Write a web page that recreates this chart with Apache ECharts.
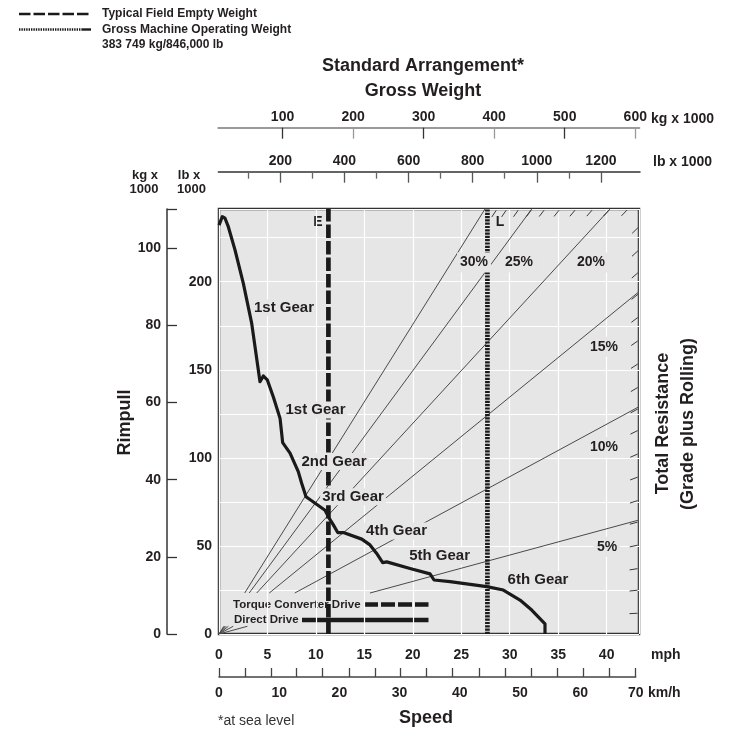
<!DOCTYPE html>
<html><head><meta charset="utf-8">
<script src="https://cdn.jsdelivr.net/npm/echarts@6/dist/echarts.min.js"></script>
<style>html,body{margin:0;padding:0;background:#fff}#c{width:731px;height:741px}</style>
</head><body><div id="c"></div>
<script>
// ---------------- data ----------------
const mphLabels = [0, 5, 10, 15, 20, 25, 30, 35, 40];
const kmhLabels = [0, 10, 20, 30, 40, 50, 60, 70];
const kmhTickMarks = [0, 4.32, 8.64, 12.91, 17.23, 21.59, 25.91, 30.18, 34.5, 38.82, 43.19, 47.51, 51.83, 56.2, 60.51, 64.83, 69.22];
const rimpullKgLabels = [0, 20, 40, 60, 80, 100];
const rimpullLbLabels = [0, 50, 100, 150, 200];
const weightKgLabels = [100, 200, 300, 400, 500, 600];
const weightLbLabels = [200, 400, 600, 800, 1000, 1200];
const weightLbMinorTicks = [100, 300, 500, 700, 900, 1100];

// rimpull curve: [speed mph, rimpull kg x 1000]
const rimpullCurve = [
  [0, 106.0], [0.34, 108.2], [0.62, 107.8], [0.96, 105.6], [1.65, 99.6], [2.51, 90.9],
  [3.37, 80.6], [4.23, 65.4], [4.57, 66.9], [4.98, 65.9], [5.60, 61.5], [6.30, 55.9],
  [6.57, 49.6], [7.33, 46.9], [8.18, 42.1], [8.53, 39.1], [8.98, 35.6], [10.94, 32.1],
  [11.38, 30.0], [11.80, 28.3], [12.25, 26.3], [12.83, 26.3], [14.73, 24.6], [15.58, 23.1],
  [16.27, 20.9], [16.89, 18.5], [17.31, 18.7], [19.71, 17.0], [21.78, 15.6], [22.19, 14.0],
  [23.84, 13.6], [27.63, 12.3], [29.34, 11.4], [31.06, 8.8], [32.27, 6.2], [33.64, 2.6], [33.64, 0]
];

// total resistance lines (visible pieces), [speed mph, rimpull kg x 1000]
const gradeNames = ['30%', '25%', '20%', '15%', '10%', '5%'];
const gradeNearOrigin = [[0.495, 2.0], [0.588, 2.0], [0.733, 2.0], [0.970, 2.0], [1.465, 2.0], [2.93, 2.0]];
const gradeVisibleStart = [[2.652, 10.63], [3.117, 10.63], [3.891, 10.63], [5.19, 10.63], [7.82, 10.63], [15.58, 10.63]];
const gradeEnd = [[27.45, 110.19], [32.27, 110.19], [40.35, 110.19], [43.34, 88.75], [43.34, 58.93], [43.34, 29.56]];
const gradeLabelAt = [[26.32, 96.3], [30.96, 96.3], [38.39, 96.3], [39.73, 74.5], [39.73, 48.4], [40.04, 22.6]];

// resistance scale ticks on the plot edges
const rightEdgeTickKg = [105.6, 99.6, 93.9, 88.3, 82.3, 76.2, 70.2, 64.1, 58.5, 52.9, 46.8, 40.8, 34.7, 29.1, 23.1, 17.0, 11.4, 5.4];
const topEdgeTickMph = [28.69, 29.72, 30.96, 32.30, 33.64, 35.19, 36.84, 38.60, 40.35, 42.21];

// gear labels: [text, speed mph, rimpull kg x 1000]
const gearLabels = [
  ['1st Gear', 6.71, 84.6], ['1st Gear', 9.96, 58.1], ['2nd Gear', 11.87, 44.7],
  ['3rd Gear', 13.83, 35.6], ['4th Gear', 18.32, 26.7], ['5th Gear', 22.76, 20.2], ['6th Gear', 32.92, 14.1]
];

// weights (lb x 1000)
const emptyWeightLb = 350;
const grossWeightLb = 846;

// axis extents
const MPH_MAX = 43.34, KMH_MAX = 69.22, KG_MAX = 110.19, LB_MAX = 241.3;

// ---------------- chart ----------------
const FONT = '"Liberation Sans", Arial, Helvetica, sans-serif';
const INK = '#231f20';
const BG = '#e6e6e6';
const lab = (o) => Object.assign({fontFamily: FONT, fontWeight: 'bold', fontSize: 14, color: INK, formatter: v => String(v)}, o || {});

const gradeSegs = [];
gradeNames.forEach((n, i) => {
  gradeSegs.push({coords: [[0, 0], gradeNearOrigin[i]]});
  gradeSegs.push({coords: [gradeVisibleStart[i], gradeEnd[i]]});
});
const edgeTicks = rightEdgeTickKg.map(k => [MPH_MAX, k]).concat(topEdgeTickMph.map(m => [m, KG_MAX]));

const chart = echarts.init(document.getElementById('c'), null, {renderer: 'canvas'});

const T = (x, y, text, o) => Object.assign({type: 'text', x, y, silent: true,
  style: Object.assign({text, fill: INK, fontFamily: FONT, fontWeight: 'bold', fontSize: 14, align: 'left', verticalAlign: 'middle'}, o || {})});
const Ln = (x1, y1, x2, y2, w, dash) => ({type: 'line', silent: true, shape: {x1, y1, x2, y2},
  style: {stroke: '#1a1a1a', lineWidth: w, lineDash: dash || null}});
const noLine = {show: false, onZero: false};

chart.setOption({
  animation: false,
  backgroundColor: '#fff',
  grid: [
    {left: 219, top: 209, width: 420, height: 425, show: true, backgroundColor: BG, borderColor: '#333', borderWidth: 2.5},
    {left: 219, top: 209, width: 416.7, height: 425},
    {left: 218.3, top: 209, width: 421, height: 425},
    {left: 218.3, top: 209, width: 421.7, height: 425}
  ],
  xAxis: [
    {gridIndex: 0, type: 'value', min: 0, max: MPH_MAX, interval: 5, position: 'bottom',
      axisLine: noLine, axisTick: {show: false},
      axisLabel: lab({customValues: mphLabels, margin: 14}),
      splitLine: {show: true, lineStyle: {color: '#fff', width: 1.2}}},
    {gridIndex: 1, type: 'value', min: 0, max: KMH_MAX, position: 'bottom', offset: 43,
      axisLine: {show: true, onZero: false, lineStyle: {color: '#444', width: 1.5}},
      axisTick: {show: true, inside: true, length: 9, customValues: kmhTickMarks, lineStyle: {color: '#444', width: 1.3}},
      axisLabel: lab({customValues: kmhLabels.map(v => Math.min(v, KMH_MAX)), margin: 9,
        formatter: v => (v >= KMH_MAX ? '70' : String(v))}),
      splitLine: {show: false}},
    {gridIndex: 2, type: 'value', min: 8.93, max: 605.67, position: 'top', offset: 81.3,
      axisLine: {show: true, onZero: false, lineStyle: {color: '#9a9a9a', width: 2}},
      axisTick: {show: true, inside: true, length: 11, customValues: [100, 300, 500], lineStyle: {color: '#333', width: 1.3}},
      axisLabel: lab({customValues: weightKgLabels, margin: 4}),
      splitLine: {show: false}},
    {gridIndex: 3, type: 'value', min: 6.55, max: 1321.9, position: 'top', offset: 37.3,
      axisLine: {show: true, onZero: false, lineStyle: {color: '#333', width: 1.5}},
      axisTick: {show: true, inside: true, length: 11, customValues: weightLbLabels, lineStyle: {color: '#555', width: 1.3}},
      axisLabel: lab({customValues: weightLbLabels, margin: 4}),
      splitLine: {show: false}},
    {gridIndex: 3, type: 'value', min: 6.55, max: 1321.9, position: 'top', offset: 37.3,
      axisLine: noLine,
      axisTick: {show: true, inside: true, length: 7, customValues: weightLbMinorTicks, lineStyle: {color: '#666', width: 1.3}},
      axisLabel: {show: false}, splitLine: {show: false}},
    {gridIndex: 2, type: 'value', min: 8.93, max: 605.67, position: 'top', offset: 81.3,
      axisLine: noLine,
      axisTick: {show: true, inside: true, length: 11, customValues: [200, 400, 600], lineStyle: {color: '#9a9a9a', width: 1.3}},
      axisLabel: {show: false}, splitLine: {show: false}}
  ],
  yAxis: [
    {gridIndex: 0, type: 'value', min: 0, max: LB_MAX, interval: 25, position: 'left',
      axisLine: noLine, axisTick: {show: false},
      axisLabel: lab({customValues: rimpullLbLabels, margin: 7}),
      splitLine: {show: true, lineStyle: {color: '#fff', width: 1.2}}},
    {gridIndex: 0, type: 'value', min: 0, max: KG_MAX, position: 'left', offset: 52,
      axisLine: {show: true, onZero: false, lineStyle: {color: '#333', width: 1.5}},
      axisTick: {show: true, inside: true, length: 10, customValues: rimpullKgLabels.concat([KG_MAX]), lineStyle: {color: '#333', width: 1.3}},
      axisLabel: lab({customValues: rimpullKgLabels, margin: 6}),
      splitLine: {show: false}},
    {gridIndex: 1, type: 'value', show: false, min: 0, max: 1},
    {gridIndex: 2, type: 'value', show: false, min: 0, max: 1},
    {gridIndex: 3, type: 'value', show: false, min: 0, max: LB_MAX}
  ],
  series: [
    {type: 'lines', coordinateSystem: 'cartesian2d', xAxisIndex: 0, yAxisIndex: 1, silent: true, z: 2,
      data: gradeSegs, lineStyle: {color: '#4a4a4a', width: 1, opacity: 1, curveness: 0}},
    {type: 'custom', xAxisIndex: 0, yAxisIndex: 1, silent: true, z: 2, clip: false, data: edgeTicks,
      renderItem: (params, api) => {
        const p = api.coord([api.value(0), api.value(1)]);
        const o = api.coord([0, 0]);
        const dx = o[0] - p[0], dy = o[1] - p[1], L = Math.hypot(dx, dy);
        const ux = dx / L, uy = dy / L;
        return {type: 'line', shape: {x1: p[0] + ux * 1.5, y1: p[1] + uy * 1.5, x2: p[0] + ux * 9.5, y2: p[1] + uy * 9.5},
          style: {stroke: '#3a3a3a', lineWidth: 1}};
      }},
    {type: 'line', xAxisIndex: 3, yAxisIndex: 4, silent: true, z: 3, symbol: 'none',
      data: [[emptyWeightLb, 0], [emptyWeightLb, LB_MAX]],
      lineStyle: {color: '#1a1a1a', width: 4.7, type: [13.5, 3], cap: 'butt'}},
    {type: 'line', xAxisIndex: 3, yAxisIndex: 4, silent: true, z: 3, symbol: 'none',
      data: [[grossWeightLb, 0], [grossWeightLb, LB_MAX]],
      lineStyle: {color: '#1a1a1a', width: 4.7, type: [2.2, 1.1], cap: 'butt'}},
    {type: 'scatter', xAxisIndex: 0, yAxisIndex: 1, silent: true, z: 4, symbolSize: 1,
      itemStyle: {color: 'rgba(0,0,0,0)', opacity: 1},
      data: gearLabels.map(g => ({name: g[0], value: [g[1], g[2]]})),
      label: lab({show: true, position: 'inside', formatter: '{b}', fontSize: 15, opacity: 1, backgroundColor: BG, padding: [1, 2]})},
    {type: 'scatter', xAxisIndex: 0, yAxisIndex: 1, silent: true, z: 4, symbolSize: 1,
      itemStyle: {color: 'rgba(0,0,0,0)', opacity: 1},
      data: gradeNames.map((n, i) => ({name: n, value: gradeLabelAt[i]})),
      label: lab({show: true, position: 'inside', formatter: '{b}', fontSize: 14, opacity: 1, backgroundColor: BG, padding: [3, 3]})},
    {type: 'line', xAxisIndex: 0, yAxisIndex: 1, silent: true, z: 5, symbol: 'none', data: rimpullCurve,
      lineStyle: {color: '#1a1a1a', width: 3.2, join: 'round'}}
  ],
  graphic: [
    Ln(19, 14, 91, 14, 2.6, [11.5, 3]),
    T(102, 14, 'Typical Field Empty Weight', {fontSize: 12}),
    Ln(19, 29.5, 82, 29.5, 2.4, [1.4, 1]),
    Ln(82, 29.5, 91, 29.5, 2.4),
    T(102, 29.5, 'Gross Machine Operating Weight', {fontSize: 12}),
    T(102, 44.5, '383 749 kg/846,000 lb', {fontSize: 12}),
    T(423, 66, 'Standard Arrangement*', {fontSize: 18, align: 'center'}),
    T(423, 91, 'Gross Weight', {fontSize: 18, align: 'center'}),
    T(651, 119, 'kg x 1000'),
    T(653, 162.5, 'lb x 1000'),
    T(145, 175, 'kg x', {fontSize: 13, align: 'center'}),
    T(144, 189, '1000', {fontSize: 13, align: 'center'}),
    T(189, 175, 'lb x', {fontSize: 13, align: 'center'}),
    T(191.5, 189, '1000', {fontSize: 13, align: 'center'}),
    Object.assign(T(125, 422.5, 'Rimpull', {fontSize: 18, align: 'center'}), {rotation: Math.PI / 2}),
    Object.assign(T(663.5, 423.5, 'Total Resistance', {fontSize: 18, align: 'center'}), {rotation: Math.PI / 2}),
    Object.assign(T(688, 424, '(Grade plus Rolling)', {fontSize: 18, align: 'center'}), {rotation: Math.PI / 2}),
    T(651, 655.5, 'mph'),
    T(648, 693, 'km/h'),
    T(426, 718, 'Speed', {fontSize: 18, align: 'center'}),
    T(218, 721, '*at sea level', {fontSize: 14, fontWeight: 'normal', fill: '#333'}),
    T(318, 222, 'E', {fontSize: 14, align: 'center'}),
    T(500, 222, 'L', {fontSize: 14, align: 'center'}),
    T(233, 604.5, 'Torque Converter Drive', {fontSize: 11.5}),
    Ln(364, 604.5, 428.5, 604.5, 4.4, [14, 3]),
    T(234, 620, 'Direct Drive', {fontSize: 11.5}),
    Ln(302, 620, 428.5, 620, 4.4)
  ]
});
</script></body></html>
